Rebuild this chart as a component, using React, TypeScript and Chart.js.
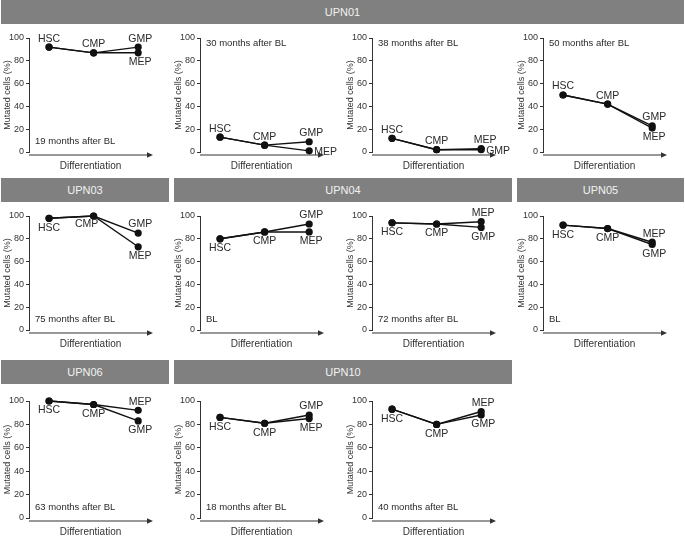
import React, { useEffect, useRef } from 'react';
import { Chart, registerables } from 'chart.js';
Chart.register(...registerables);

// ---- data ----
const stages = ['HSC', 'CMP', 'GMP', 'MEP'];
const yTickValues = [0, 20, 40, 60, 80, 100];

// values in order HSC, CMP, GMP, MEP (% mutated cells)
const upn01m19 = [92, 87, 92, 87];
const upn01m30 = [13, 6, 9, 1];
const upn01m38 = [12, 2, 2, 3];
const upn01m50 = [50, 42, 23, 21];
const upn03m75 = [98, 100, 85, 73];
const upn04bl = [80, 86, 93, 86];
const upn04m72 = [94, 93, 90, 95];
const upn05bl = [92, 89, 75, 77];
const upn06m63 = [100, 97, 83, 92];
const upn10m18 = [86, 81, 88, 85];
const upn10m40 = [93, 80, 88, 91];

const patients = ['UPN01', 'UPN03', 'UPN04', 'UPN05', 'UPN06', 'UPN10'];
const timepoints = [
  '19 months after BL', '30 months after BL', '38 months after BL', '50 months after BL',
  '75 months after BL', 'BL', '72 months after BL', 'BL',
  '63 months after BL', '18 months after BL', '40 months after BL',
];

// ---- layout (not data) ----
const COLW = 171.25;
const ROW_HEADER_TOP = [0, 178, 360];
const ROW_Y100 = [38, 216, 401];
const ROW_Y0 = [152, 330, 518];

const headers = [
  { text: patients[0], row: 0, col: 0, span: 4 },
  { text: patients[1], row: 1, col: 0, span: 1 },
  { text: patients[2], row: 1, col: 1, span: 2 },
  { text: patients[3], row: 1, col: 3, span: 1 },
  { text: patients[4], row: 2, col: 0, span: 1 },
  { text: patients[5], row: 2, col: 1, span: 2 },
];

// label placement per stage HSC, CMP, GMP, MEP
type Pos = 'a' | 'b' | 'r' | 'bl' | 'ar';
const panels: { values: number[]; note: string; noteTop: boolean; row: number; col: number; lab: Pos[] }[] = [
  { values: upn01m19, note: timepoints[0], noteTop: false, row: 0, col: 0, lab: ['a', 'a', 'a', 'b'] },
  { values: upn01m30, note: timepoints[1], noteTop: true, row: 0, col: 1, lab: ['a', 'a', 'a', 'r'] },
  { values: upn01m38, note: timepoints[2], noteTop: true, row: 0, col: 2, lab: ['a', 'a', 'r', 'ar'] },
  { values: upn01m50, note: timepoints[3], noteTop: true, row: 0, col: 3, lab: ['a', 'a', 'a', 'b'] },
  { values: upn03m75, note: timepoints[4], noteTop: false, row: 1, col: 0, lab: ['b', 'bl', 'a', 'b'] },
  { values: upn04bl, note: timepoints[5], noteTop: false, row: 1, col: 1, lab: ['b', 'b', 'a', 'b'] },
  { values: upn04m72, note: timepoints[6], noteTop: false, row: 1, col: 2, lab: ['b', 'b', 'b', 'a'] },
  { values: upn05bl, note: timepoints[7], noteTop: false, row: 1, col: 3, lab: ['b', 'b', 'b', 'a'] },
  { values: upn06m63, note: timepoints[8], noteTop: false, row: 2, col: 0, lab: ['b', 'b', 'b', 'a'] },
  { values: upn10m18, note: timepoints[9], noteTop: false, row: 2, col: 1, lab: ['b', 'b', 'a', 'b'] },
  { values: upn10m40, note: timepoints[10], noteTop: false, row: 2, col: 2, lab: ['b', 'b', 'b', 'a'] },
];

const FONT = '"Liberation Sans", Arial, Helvetica, sans-serif';
const INK = '#2a2a2a';
const PAD_TOP = 10;
const PAD_BOTTOM = 26;
const CANVAS_W = 171;
const PAD_RIGHT = 19;

const decoPlugin = {
  id: 'panelDeco',
  afterDatasetsDraw(chart: any) {
    const { ctx, chartArea, scales } = chart;
    const cfg = chart.options.plugins.panelDeco;
    const y = scales.y;
    const y0 = y.getPixelForValue(0);
    ctx.save();
    // arrow x-axis
    const ay = y0 + 3;
    ctx.strokeStyle = '#333';
    ctx.fillStyle = '#333';
    ctx.lineWidth = 1.2;
    ctx.beginPath();
    ctx.moveTo(chartArea.left, ay);
    ctx.lineTo(chartArea.right - 4, ay);
    ctx.stroke();
    ctx.beginPath();
    ctx.moveTo(chartArea.right + 1, ay);
    ctx.lineTo(chartArea.right - 5, ay - 2.8);
    ctx.lineTo(chartArea.right - 5, ay + 2.8);
    ctx.closePath();
    ctx.fill();
    // Differentiation
    ctx.font = `10px ${FONT}`;
    ctx.fillStyle = '#333';
    ctx.textAlign = 'center';
    ctx.textBaseline = 'middle';
    ctx.fillText('Differentiation', (chartArea.left + chartArea.right) / 2, y0 + 14);
    // note
    ctx.font = `9.5px ${FONT}`;
    ctx.textAlign = 'left';
    ctx.fillStyle = INK;
    const ny = cfg.noteTop ? y.getPixelForValue(100) + 5 : y0 - 11;
    ctx.fillText(cfg.note, chartArea.left + 6, ny);
    // point labels
    ctx.font = `10.5px ${FONT}`;
    const refs = [[0, 0], [0, 1], [0, 2], [1, 2]];
    refs.forEach(([ds, idx], i) => {
      const el = chart.getDatasetMeta(ds).data[idx];
      if (!el) return;
      const pos: Pos = cfg.lab[i];
      let tx = el.x, ty = el.y;
      ctx.textAlign = 'center';
      if (pos === 'a') { ty -= 8.5; if (i >= 2) tx += 2; }
      else if (pos === 'b') { ty += 9.5; if (i >= 2) tx += 2; }
      else if (pos === 'r') { ctx.textAlign = 'left'; tx += 5; ty += 1; }
      else if (pos === 'bl') { tx -= 7; ty += 8; }
      else if (pos === 'ar') { tx += 4; ty -= 8; }
      ctx.fillText(stages[i], tx, ty);
    });
    ctx.restore();
  },
};

function Panel({ p }: { p: typeof panels[number] }) {
  const ref = useRef<HTMLCanvasElement>(null);
  const plotH = ROW_Y0[p.row] - ROW_Y100[p.row];
  const h = PAD_TOP + plotH + PAD_BOTTOM;
  useEffect(() => {
    const v = p.values;
    const common = {
      borderColor: '#111',
      backgroundColor: '#111',
      borderWidth: 1.4,
      pointRadius: 3.6,
      pointBorderWidth: 0,
      clip: false as any,
      tension: 0,
    };
    const chart = new Chart(ref.current!, {
      type: 'line',
      data: {
        datasets: [
          { ...common, data: [{ x: 0, y: v[0] }, { x: 1, y: v[1] }, { x: 2, y: v[2] }] },
          { ...common, data: [{ x: 0, y: v[0] }, { x: 1, y: v[1] }, { x: 2, y: v[3] }] },
        ],
      },
      options: {
        responsive: false,
        animation: false,
        events: [],
        layout: { padding: { top: PAD_TOP, bottom: PAD_BOTTOM, left: 0, right: PAD_RIGHT } },
        plugins: {
          legend: { display: false },
          tooltip: { enabled: false },
          panelDeco: { note: p.note, noteTop: p.noteTop, lab: p.lab },
        } as any,
        scales: {
          x: { type: 'linear', min: -0.45, max: 2.31, display: false },
          y: {
            min: 0,
            max: 100,
            afterBuildTicks: (s: any) => { s.ticks = yTickValues.map((value) => ({ value })); },
            afterFit: (s: any) => { s.width = 29; },
            ticks: { font: { size: 9, family: FONT }, color: '#333', padding: 2 },
            grid: { display: true, drawOnChartArea: false, drawTicks: true, tickLength: 3, color: '#333' },
            border: { display: true, color: '#333', width: 1 },
            title: { display: true, text: 'Mutated cells (%)', font: { size: 9, family: FONT }, color: '#333', padding: { top: 2, bottom: 0 } },
          },
        },
      },
      plugins: [decoPlugin],
    });
    return () => chart.destroy();
  }, []);
  return (
    <canvas
      ref={ref}
      width={CANVAS_W}
      height={h}
      style={{ position: 'absolute', left: Math.round(p.col * COLW), top: ROW_Y100[p.row] - PAD_TOP, width: CANVAS_W, height: h }}
    />
  );
}

export default function App() {
  return (
    <div style={{ position: 'absolute', left: 0, top: 0, width: 685, height: 540, background: '#fff', overflow: 'hidden', fontFamily: FONT }}>
      {headers.map((hd, i) => {
        const left = hd.col === 0 ? 1 : Math.round(hd.col * COLW + 3);
        const right = hd.col + hd.span === 4 ? 684 : Math.round((hd.col + hd.span) * COLW - 2);
        return (
          <div
            key={i}
            style={{
              position: 'absolute', left, top: ROW_HEADER_TOP[hd.row], width: right - left, height: 24,
              background: '#808080', color: '#f2f2f2', fontSize: 11, lineHeight: '24px', textAlign: 'center',
            }}
          >
            {hd.text}
          </div>
        );
      })}
      {panels.map((p, i) => <Panel key={i} p={p} />)}
    </div>
  );
}
